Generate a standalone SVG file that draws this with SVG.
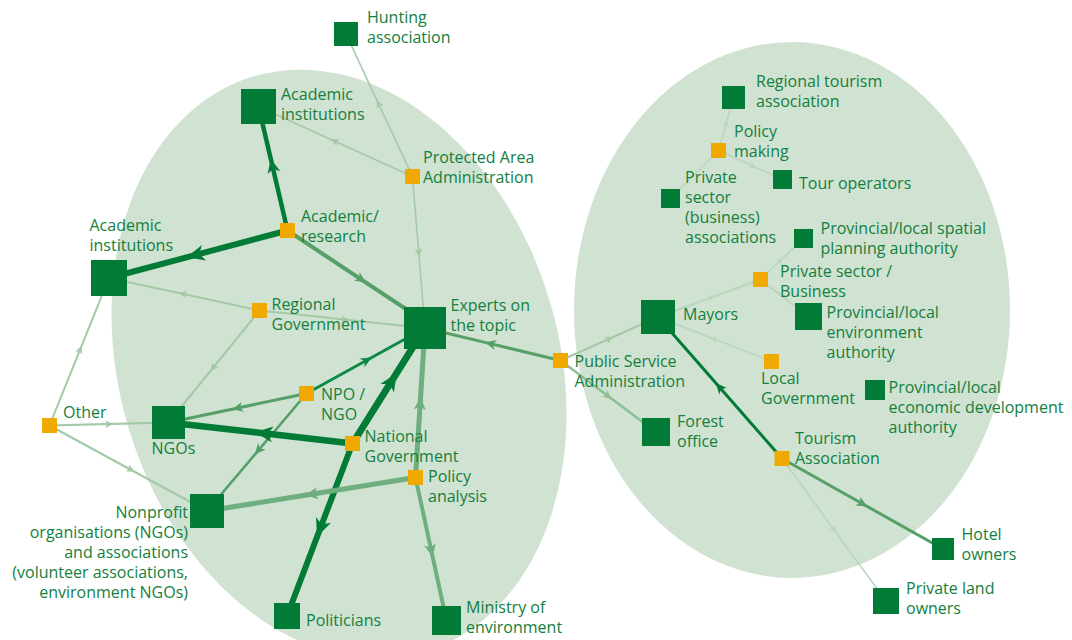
<svg xmlns="http://www.w3.org/2000/svg" width="1072" height="640" viewBox="0 0 1072 640">
<style>
.bg{fill:#d0e2d1}
.box{fill:#017b36}
.hub{fill:#f0a900}
text{font-family:"Open Sans","Noto Sans",sans-serif;font-size:16px;fill:#13803d}
.r{text-anchor:end}
.c{fill:none;stroke-linejoin:round}
.dk{stroke:#017b36}
.gr{stroke:#0d8b45}
.md{stroke:#55a068}
.pl{stroke:#6fae7f}
.lt{stroke:#a4c9a7}
.lm{stroke:#8dbe96}
.vl{stroke:#b9d6ba}
.fdk{fill:#017b36}
.fgr{fill:#0d8b45}
.fmd{fill:#55a068}
.fpl{fill:#6fae7f}
.flt{fill:#a4c9a7}
.flm{fill:#8dbe96}
.fvl{fill:#b9d6ba}
</style>
<defs>
<marker id="aDkL" viewBox="-20 -10 22 20" markerWidth="22" markerHeight="20" refX="0" refY="0" orient="auto" markerUnits="userSpaceOnUse"><path class="fdk" d="M0,0 L-18,-8 L-13,0 L-18,8 Z"/></marker>
<marker id="aDkM" viewBox="-20 -10 22 20" markerWidth="22" markerHeight="20" refX="0" refY="0" orient="auto" markerUnits="userSpaceOnUse"><path class="fdk" d="M0,0 L-14,-6.5 L-10,0 L-14,6.5 Z"/></marker>
<marker id="aDkS" viewBox="-20 -10 22 20" markerWidth="22" markerHeight="20" refX="0" refY="0" orient="auto" markerUnits="userSpaceOnUse"><path class="fdk" d="M0,0 L-11,-5 L-8,0 L-11,5 Z"/></marker>
<marker id="aGr" viewBox="-20 -10 22 20" markerWidth="22" markerHeight="20" refX="0" refY="0" orient="auto" markerUnits="userSpaceOnUse"><path class="fgr" d="M0,0 L-11,-5 L-8,0 L-11,5 Z"/></marker>
<marker id="aMd" viewBox="-20 -10 22 20" markerWidth="22" markerHeight="20" refX="0" refY="0" orient="auto" markerUnits="userSpaceOnUse"><path class="fmd" d="M0,0 L-11,-5 L-8,0 L-11,5 Z"/></marker>
<marker id="aPl" viewBox="-20 -10 22 20" markerWidth="22" markerHeight="20" refX="0" refY="0" orient="auto" markerUnits="userSpaceOnUse"><path class="fpl" d="M0,0 L-13,-6 L-9.5,0 L-13,6 Z"/></marker>
<marker id="aLt" viewBox="-20 -10 22 20" markerWidth="22" markerHeight="20" refX="0" refY="0" orient="auto" markerUnits="userSpaceOnUse"><path class="flt" d="M0,0 L-8,-3.8 L-6,0 L-8,3.8 Z"/></marker>
<marker id="aLm" viewBox="-20 -10 22 20" markerWidth="22" markerHeight="20" refX="0" refY="0" orient="auto" markerUnits="userSpaceOnUse"><path class="flm" d="M0,0 L-9,-4.2 L-6.5,0 L-9,4.2 Z"/></marker>
<marker id="aVl" viewBox="-20 -10 22 20" markerWidth="22" markerHeight="20" refX="0" refY="0" orient="auto" markerUnits="userSpaceOnUse"><path class="fvl" d="M0,0 L-7,-3.3 L-5,0 L-7,3.3 Z"/></marker>
</defs>

<g id="clusters">
<ellipse class="bg" cx="339" cy="364" rx="220" ry="300" transform="rotate(-16.5 339 364)"/>
<ellipse class="bg" cx="792" cy="310" rx="218" ry="268"/>
</g>

<g id="connectors">
<path class="c lt" stroke-width="1.6" marker-mid="url(#aLt)" d="M412.5,176.5 L376.8,100 L346,34"/>
<path class="c lt" stroke-width="1.6" marker-mid="url(#aLt)" d="M412.5,176.5 L330.9,139.4 L258.5,106.5"/>
<path class="c lt" stroke-width="1.6" marker-mid="url(#aLt)" d="M412.5,176.5 L419.1,256.8 L425,328"/>
<path class="c dk" stroke-width="4.5" marker-mid="url(#aDkM)" d="M287.5,230.5 L270.8,159 L258.5,106.5"/>
<path class="c dk" stroke-width="6" marker-mid="url(#aDkL)" d="M287.5,230.5 L186.6,257.3 L109,278"/>
<path class="c md" stroke-width="4" marker-mid="url(#aMd)" d="M287.5,230.5 L366,282.6 L415,315"/>
<path class="c lt" stroke-width="2" marker-mid="url(#aLt)" d="M259.5,310.5 L179,293.1 L109,278"/>
<path class="c lt" stroke-width="2" marker-mid="url(#aLt)" d="M259.5,310.5 L348.9,320 L425,328"/>
<path class="c lt" stroke-width="2" marker-mid="url(#aLt)" d="M259.5,310.5 L210.4,371 L168.5,422.5"/>
<path class="c lt" stroke-width="2" marker-mid="url(#aLt)" d="M49.5,425.5 L81.6,345.8 L109,278"/>
<path class="c lt" stroke-width="2.2" marker-mid="url(#aLt)" d="M49.5,425.5 L113.3,423.9 L168.5,422.5"/>
<path class="c lt" stroke-width="2.2" marker-mid="url(#aLt)" d="M49.5,425.5 L134.5,471.7 L207,511"/>
<path class="c gr" stroke-width="3" marker-mid="url(#aGr)" d="M306.5,393.5 L371.7,357.5 L425,328"/>
<path class="c md" stroke-width="3" marker-mid="url(#aMd)" d="M306.5,393.5 L232,409.2 L168.5,422.5"/>
<path class="c md" stroke-width="2.5" marker-mid="url(#aMd)" d="M306.5,393.5 L254.8,454.6 L207,511"/>
<path class="c dk" stroke-width="6.5" marker-mid="url(#aDkL)" d="M352.5,443.5 L254.8,432.3 L168.5,422.5"/>
<path class="c dk" stroke-width="7" marker-mid="url(#aDkL)" d="M352.5,443.5 L396.7,373 L425,328"/>
<path class="c dk" stroke-width="6" marker-mid="url(#aDkL)" d="M352.5,443.5 L317.1,536.7 L287,616"/>
<path class="c pl" stroke-width="5" marker-mid="url(#aPl)" d="M415.5,477.5 L305,495.3 L207,511"/>
<path class="c pl" stroke-width="5" marker-mid="url(#aPl)" d="M415.5,477.5 L420.6,396.8 L425,328"/>
<path class="c pl" stroke-width="4" marker-mid="url(#aPl)" d="M415.5,477.5 L432.7,557 L446.5,620.5"/>
<path class="c md" stroke-width="3" marker-mid="url(#aMd)" d="M560.5,360.5 L485,342.4 L425,328"/>
<path class="c lt" stroke-width="2" marker-mid="url(#aLt)" d="M560.5,360.5 L613.2,337 L658,317"/>
<path class="c lm" stroke-width="2.5" marker-mid="url(#aLm)" d="M560.5,360.5 L611.7,398.8 L656,432"/>
<path class="c vl" stroke-width="1.5" marker-mid="url(#aVl)" d="M718.5,150.5 L727.1,120 L733.5,97.5"/>
<path class="c vl" stroke-width="1.5" marker-mid="url(#aVl)" d="M718.5,150.5 L756.7,167.8 L782.5,179.5"/>
<path class="c vl" stroke-width="1.5" d="M670.5,198.5 L718.5,150.5"/>
<path class="c vl" stroke-width="1.5" marker-mid="url(#aVl)" d="M760.5,279.5 L783.3,257.8 L803.5,238.5"/>
<path class="c vl" stroke-width="2" marker-mid="url(#aVl)" d="M760.5,279.5 L706.2,299.4 L658,317"/>
<path class="c vl" stroke-width="2" d="M760.5,279.5 L808.5,316.5"/>
<path class="c vl" stroke-width="1.5" marker-mid="url(#aVl)" d="M771.5,361.5 L710.2,337.5 L658,317"/>
<path class="c dk" stroke-width="3" marker-mid="url(#aDkS)" d="M782,458.5 L715.8,382.9 L658,317"/>
<path class="c md" stroke-width="3" marker-mid="url(#aMd)" d="M782,458.5 L867.3,506.5 L943,549"/>
<path class="c vl" stroke-width="1.5" marker-mid="url(#aVl)" d="M782,458.5 L836.1,532.6 L886,601"/>
</g>

<g id="n-hunting"><rect class="box" x="334" y="22" width="24" height="24"/><text x="367" y="23">Hunting</text><text x="367" y="43">association</text></g>
<g id="n-acad-top"><rect class="box" x="241" y="89" width="35" height="35"/><text x="281" y="100">Academic</text><text x="281" y="120">institutions</text></g>
<g id="n-protected"><rect class="hub" x="405" y="169" width="15" height="15"/><text x="423" y="163">Protected Area</text><text x="423" y="183">Administration</text></g>
<g id="n-acad-research"><rect class="hub" x="280" y="223" width="15" height="15"/><text x="301" y="222">Academic/</text><text x="301" y="242">research</text></g>
<g id="n-acad-left"><rect class="box" x="91" y="260" width="36" height="36"/><text x="89.5" y="231">Academic</text><text x="89.5" y="251">institutions</text></g>
<g id="n-regional"><rect class="hub" x="252" y="303" width="15" height="15"/><text x="271.5" y="310">Regional</text><text x="271.5" y="330">Government</text></g>
<g id="n-experts"><rect class="box" x="404" y="307" width="42" height="42"/><text x="450.5" y="311">Experts on</text><text x="450.5" y="331">the topic</text></g>
<g id="n-other"><rect class="hub" x="42" y="418" width="15" height="15"/><text x="63" y="418">Other</text></g>
<g id="n-ngos"><rect class="box" x="152" y="406" width="33" height="33"/><text x="151.5" y="454">NGOs</text></g>
<g id="n-npo"><rect class="hub" x="299" y="386" width="15" height="15"/><text x="321" y="400">NPO /</text><text x="321" y="420">NGO</text></g>
<g id="n-national"><rect class="hub" x="345" y="436" width="15" height="15"/><text x="364.5" y="442">National</text><text x="364.5" y="462">Government</text></g>
<g id="n-policy-analysis"><rect class="hub" x="408" y="470" width="15" height="15"/><text x="428" y="482">Policy</text><text x="428" y="502">analysis</text></g>
<g id="n-nonprofit"><rect class="box" x="190" y="494" width="34" height="34"/><text class="r" x="188" y="518">Nonprofit</text><text class="r" x="188" y="538">organisations (NGOs)</text><text class="r" x="188" y="558">and associations</text><text class="r" x="188" y="578">(volunteer associations,</text><text class="r" x="188" y="598">environment NGOs)</text></g>
<g id="n-politicians"><rect class="box" x="274" y="603" width="26" height="26"/><text x="306" y="626">Politicians</text></g>
<g id="n-ministry"><rect class="box" x="432" y="606" width="29" height="29"/><text x="466" y="613">Ministry of</text><text x="466" y="633">environment</text></g>
<g id="n-psa"><rect class="hub" x="553" y="353" width="15" height="15"/><text x="574.5" y="367">Public Service</text><text x="574.5" y="387">Administration</text></g>

<g id="n-reg-tourism"><rect class="box" x="722" y="86" width="23" height="23"/><text x="756" y="87">Regional tourism</text><text x="756" y="107">association</text></g>
<g id="n-policy-making"><rect class="hub" x="711" y="143" width="15" height="15"/><text x="734" y="137">Policy</text><text x="734" y="157">making</text></g>
<g id="n-tour-operators"><rect class="box" x="773" y="170" width="19" height="19"/><text x="799" y="188.5">Tour operators</text></g>
<g id="n-private-assoc"><rect class="box" x="661" y="189" width="19" height="19"/><text x="685" y="183">Private</text><text x="685" y="203">sector</text><text x="685" y="223">(business)</text><text x="685" y="243">associations</text></g>
<g id="n-spatial"><rect class="box" x="794" y="229" width="19" height="19"/><text x="820.5" y="234">Provincial/local spatial</text><text x="820.5" y="254">planning authority</text></g>
<g id="n-private-business"><rect class="hub" x="753" y="272" width="15" height="15"/><text x="780" y="277">Private sector /</text><text x="780" y="297">Business</text></g>
<g id="n-mayors"><rect class="box" x="641" y="300" width="34" height="34"/><text x="683" y="320">Mayors</text></g>
<g id="n-prov-env"><rect class="box" x="795" y="303" width="27" height="27"/><text x="826.5" y="318">Provincial/local</text><text x="826.5" y="338">environment</text><text x="826.5" y="358">authority</text></g>
<g id="n-local-gov"><rect class="hub" x="764" y="354" width="15" height="15"/><text x="761" y="384">Local</text><text x="761" y="404">Government</text></g>
<g id="n-prov-econ"><rect class="box" x="865" y="380" width="20" height="20"/><text x="888.5" y="392.5">Provincial/local</text><text x="888.5" y="412.5">economic development</text><text x="888.5" y="432.5">authority</text></g>
<g id="n-forest"><rect class="box" x="642" y="418" width="28" height="28"/><text x="677" y="427">Forest</text><text x="677" y="447">office</text></g>
<g id="n-tourism-assoc"><rect class="hub" x="774.5" y="451" width="15" height="15"/><text x="795" y="444">Tourism</text><text x="795" y="464">Association</text></g>
<g id="n-hotel"><rect class="box" x="932" y="538" width="22" height="22"/><text x="961.5" y="540">Hotel</text><text x="961.5" y="560">owners</text></g>
<g id="n-private-land"><rect class="box" x="873" y="588" width="26" height="26"/><text x="906" y="593.5">Private land</text><text x="906" y="613.5">owners</text></g>
</svg>
